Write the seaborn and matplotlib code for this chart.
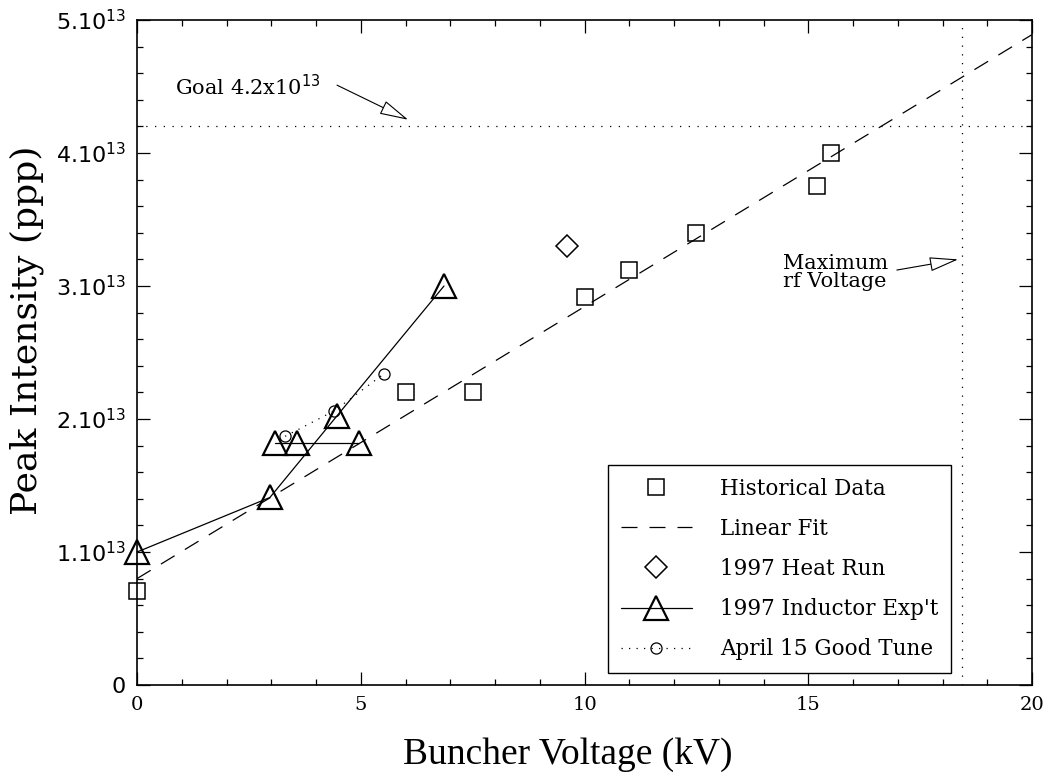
import matplotlib
matplotlib.use("Agg")
import matplotlib.pyplot as plt
from matplotlib.lines import Line2D
from matplotlib.ticker import FixedLocator, MultipleLocator
import seaborn as sns

# --- data (intensity in units of 1e13 protons per pulse) ---
hist_kv = [0.0, 6.0, 7.5, 10.0, 11.0, 12.5, 15.2, 15.5]
hist_ppp = [0.71, 2.20, 2.20, 2.92, 3.12, 3.40, 3.75, 4.00]

fit_kv = [0.0, 20.0]
fit_ppp = [0.80, 4.89]

heat_kv = [9.6]
heat_ppp = [3.30]

ind_kv = [0.0, 2.97, 4.46, 6.86]
ind_ppp = [1.00, 1.41, 2.02, 3.00]
ind_flat_kv = [3.08, 3.57, 4.97]
ind_flat_ppp = [1.82, 1.82, 1.82]

tune_kv = [3.31, 4.40, 5.52]
tune_ppp = [1.87, 2.06, 2.34]

goal = 4.2
max_rf_kv = 18.44

y_ticks = [0, 1, 2, 3, 4, 5]
y_labels = ["0"] + [f"{v}.10$^{{13}}$" for v in y_ticks[1:]]

# --- style ---
sns.set_theme(style="ticks")
plt.rcParams["font.family"] = ["DejaVu Serif"]
plt.rcParams["mathtext.fontset"] = "dejavusans"
for key in ["text.color", "axes.labelcolor", "xtick.color", "ytick.color",
            "axes.edgecolor"]:
    plt.rcParams[key] = "black"

fig = plt.figure(figsize=(10.49, 7.75), dpi=100)
ax = fig.add_axes([0.1306, 0.1161, 0.8532, 0.8581])

FIT_DASH = (12.8, 9.6)
TUNE_DOTS = (0, (1, 5))

# --- series ---
sns.lineplot(x=fit_kv, y=fit_ppp, ax=ax, color="black", linewidth=0.9,
             dashes=FIT_DASH, estimator=None, sort=False)
sns.lineplot(x=hist_kv, y=hist_ppp, ax=ax, linestyle="none", marker="s",
             markersize=11, markerfacecolor="none", markeredgecolor="black",
             markeredgewidth=1.1, color="black", estimator=None, sort=False,
             clip_on=False)
sns.lineplot(x=heat_kv, y=heat_ppp, ax=ax, linestyle="none", marker="D",
             markersize=11, markerfacecolor="none", markeredgecolor="black",
             markeredgewidth=1.1, color="black", estimator=None, sort=False)
sns.lineplot(x=ind_kv, y=ind_ppp, ax=ax, color="black", linewidth=0.9,
             marker="^", markersize=17, markerfacecolor="none",
             markeredgecolor="black", markeredgewidth=1.6,
             estimator=None, sort=False, clip_on=False)
sns.lineplot(x=ind_flat_kv, y=ind_flat_ppp, ax=ax, color="black", linewidth=0.9,
             marker="^", markersize=17, markerfacecolor="none",
             markeredgecolor="black", markeredgewidth=1.6,
             estimator=None, sort=False)
sns.lineplot(x=tune_kv, y=tune_ppp, ax=ax, color="black", linewidth=0.9,
             linestyle=TUNE_DOTS, marker="o", markersize=8,
             markerfacecolor="none", markeredgecolor="black",
             markeredgewidth=0.9, estimator=None, sort=False)

# goal and max rf lines
ax.axhline(goal, color="black", linewidth=0.9, linestyle=(0, (1, 6)))
ax.axvline(max_rf_kv, color="black", linewidth=0.9, linestyle=(0, (1, 6)))

# --- annotations ---
arrow = dict(arrowstyle="-|>,head_length=1.4,head_width=0.35", fc="white",
             ec="black", lw=0.8, mutation_scale=13, shrinkA=0, shrinkB=0)
ax.text(0.85, 4.5, "Goal 4.2x10$^{13}$", fontsize=15, va="center", ha="left")
ax.annotate("", xy=(6.06, 4.25), xytext=(4.47, 4.51), arrowprops=arrow)
ax.text(14.44, 3.10, "Maximum\nrf Voltage", fontsize=15, va="center",
        ha="left", linespacing=0.9)
ax.annotate("", xy=(18.35, 3.20), xytext=(16.98, 3.12), arrowprops=arrow)

# --- axes ---
ax.set_xlim(0, 20)
ax.set_ylim(0, 5)
ax.xaxis.set_major_locator(MultipleLocator(5))
ax.xaxis.set_minor_locator(MultipleLocator(1))
ax.yaxis.set_major_locator(FixedLocator(y_ticks))
ax.yaxis.set_minor_locator(MultipleLocator(0.2))
ax.set_yticklabels(y_labels, family="DejaVu Sans", fontsize=16)
ax.tick_params(axis="x", labelsize=14)
ax.tick_params(which="both", direction="in", top=True, right=True,
               color="black", width=0.9)
ax.tick_params(which="major", length=9.5, pad=8)
ax.tick_params(which="minor", length=4.5)
for sp in ax.spines.values():
    sp.set_linewidth(1.2)

ax.set_xlabel("Buncher Voltage (kV)", fontsize=27, family="Liberation Serif")
ax.xaxis.set_label_coords(0.4816, -0.078)
ax.set_ylabel("Peak Intensity (ppp)", fontsize=26)
ax.yaxis.set_label_coords(-0.104, 0.534)

# --- legend ---
handles = [
    Line2D([], [], linestyle="none", marker="s", markersize=11,
           markerfacecolor="none", markeredgecolor="black", markeredgewidth=1.1),
    Line2D([], [], color="black", linewidth=0.9, dashes=FIT_DASH),
    Line2D([], [], linestyle="none", marker="D", markersize=11,
           markerfacecolor="none", markeredgecolor="black", markeredgewidth=1.1),
    Line2D([], [], color="black", linewidth=0.9, marker="^", markersize=17,
           markerfacecolor="none", markeredgecolor="black", markeredgewidth=1.6),
    Line2D([], [], color="black", linewidth=0.9, linestyle=TUNE_DOTS,
           marker="o", markersize=8, markerfacecolor="none",
           markeredgecolor="black", markeredgewidth=0.9),
]
labels = ["Historical Data", "Linear Fit", "1997 Heat Run",
          "1997 Inductor Exp't", "April 15 Good Tune"]
leg = ax.legend(handles, labels, loc="lower left",
                bbox_to_anchor=(0.526, 0.018), fontsize=15.5, frameon=True,
                fancybox=False, edgecolor="black", framealpha=1,
                handlelength=3.3, handletextpad=1.3, labelspacing=0.84,
                borderpad=0.6, borderaxespad=0)
leg.get_frame().set_linewidth(1.0)

fig.savefig("out.png", dpi=100)
